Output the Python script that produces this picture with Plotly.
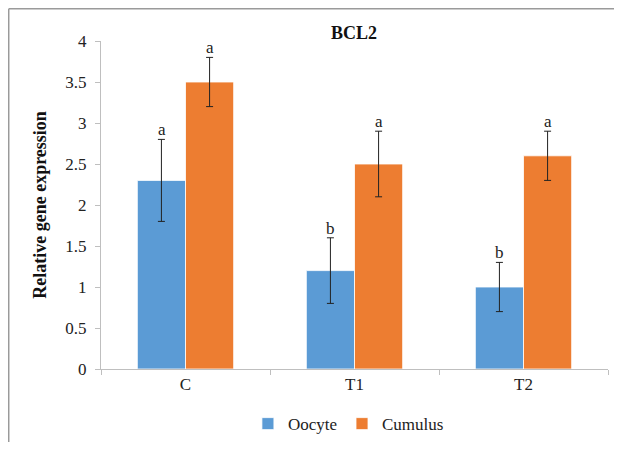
import plotly.graph_objects as go

categories = ["C", "T1", "T2"]
oocyte = [2.3, 1.2, 1.0]
oocyte_err = [0.5, 0.4, 0.3]
cumulus = [3.5, 2.5, 2.6]
cumulus_err = [0.3, 0.4, 0.3]
oocyte_letters = ["a", "b", "b"]
cumulus_letters = ["a", "a", "a"]

FONT = "Liberation Serif"
BLUE = "#5B9BD5"
ORANGE = "#ED7D31"

fig = go.Figure()
fig.add_trace(go.Bar(
    name="Oocyte", x=categories, y=oocyte, marker_color=BLUE,
    marker_line=dict(color="white", width=0.8),
    error_y=dict(type="data", array=oocyte_err, color="#222222", thickness=1, width=3.5),
))
fig.add_trace(go.Bar(
    name="Cumulus", x=categories, y=cumulus, marker_color=ORANGE,
    marker_line=dict(color="white", width=0.8),
    error_y=dict(type="data", array=cumulus_err, color="#222222", thickness=1, width=3.5),
))

annotations = []
for i, c in enumerate(categories):
    annotations.append(dict(x=c, y=oocyte[i] + oocyte_err[i], text=oocyte_letters[i],
                            xref="x", yref="y", showarrow=False, xshift=-24,
                            yanchor="bottom", yshift=-2, font=dict(family=FONT, size=17, color="#222")))
    annotations.append(dict(x=c, y=cumulus[i] + cumulus_err[i], text=cumulus_letters[i],
                            xref="x", yref="y", showarrow=False, xshift=24,
                            yanchor="bottom", yshift=-2, font=dict(family=FONT, size=17, color="#222")))

border = dict(color="#9a9a9a", width=1.5)
fig.update_layout(
    width=606, height=434,
    margin=dict(l=93, r=6, t=33, b=73, autoexpand=False),
    paper_bgcolor="white", plot_bgcolor="white",
    barmode="group", bargap=0.43, bargroupgap=0,
    font=dict(family=FONT, size=17, color="#222"),
    title=dict(text="<b>BCL2</b>", x=0.571, xanchor="center", y=0.942, yanchor="middle",
               font=dict(family=FONT, size=18, color="#111")),
    showlegend=True,
    legend=dict(orientation="h", x=0.488, xanchor="center", y=-0.113, yanchor="top",
                font=dict(family=FONT, size=17, color="#222"), itemwidth=30, traceorder="normal"),
    annotations=annotations,
    shapes=[
        dict(type="line", xref="paper", yref="paper", x0=-0.182, x1=1.5, y0=1.0983, y1=1.0983,
             line=border, layer="below"),
        dict(type="line", xref="paper", yref="paper", x0=-0.182, x1=-0.182, y0=-0.5, y1=1.0983,
             line=border, layer="below"),
    ],
)
fig.update_yaxes(range=[0, 4], dtick=0.5, showgrid=False, showline=True, linecolor="#bfbfbf",
                 ticks="outside", ticklen=5, tickcolor="#bfbfbf", automargin=False,
                 ticklabelstandoff=5,
                 tickfont=dict(family=FONT, size=17, color="#222"), zeroline=False,
                 title=dict(text="<b>Relative gene expression</b>", standoff=14,
                            font=dict(family=FONT, size=18, color="#111")))
fig.update_xaxes(showgrid=False, showline=True, linecolor="#bfbfbf", ticks="outside",
                 tickson="boundaries", ticklen=5, tickcolor="#bfbfbf", automargin=False,
                 tickfont=dict(family=FONT, size=17, color="#222"))

fig.write_html("out.html")
